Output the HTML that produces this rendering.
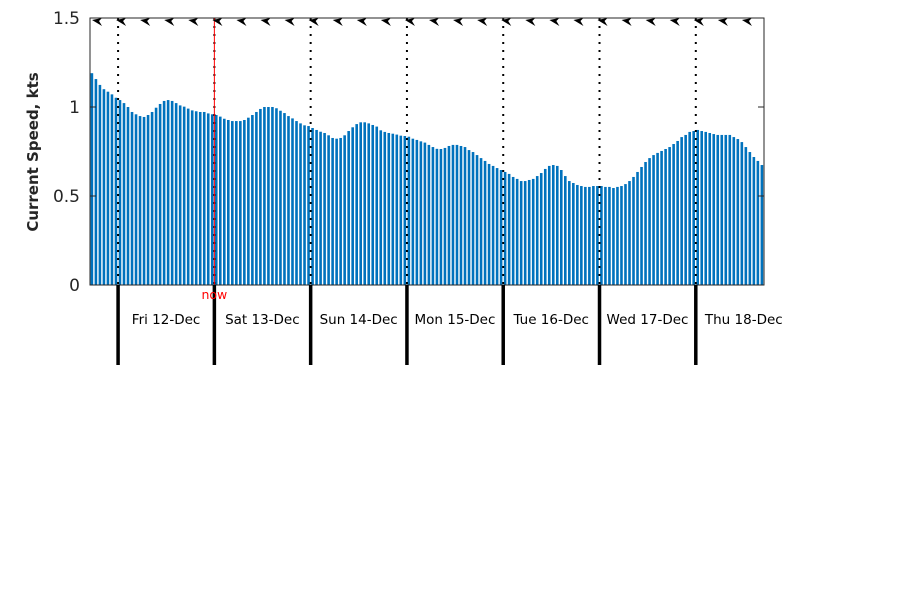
<!DOCTYPE html>
<html><head><meta charset="utf-8"><style>
body{margin:0;background:#fff;}
svg{display:block;font-family:"DejaVu Sans","Liberation Sans",sans-serif;}
</style></head><body>
<svg id="chart" width="900" height="600">
<g id="bars"></g>
<g id="grid"></g>
<g id="arrows"></g>
<rect x="90" y="18" width="674" height="267" fill="none" stroke="#262626" stroke-width="1"/>
<g id="yaxis"></g>
<text transform="translate(38,152) rotate(-90)" text-anchor="middle" font-size="15" font-weight="bold" fill="#262626">Current Speed, kts</text>
<g id="xaxis"></g>
</svg>
<script>
const speeds=[1.19,1.157,1.124,1.10,1.086,1.071,1.052,1.039,1.022,1.00,0.972,0.959,0.949,0.944,0.955,0.972,0.996,1.017,1.034,1.039,1.034,1.022,1.009,1.002,0.991,0.981,0.976,0.972,0.972,0.964,0.959,0.955,0.946,0.934,0.927,0.921,0.921,0.921,0.927,0.94,0.955,0.972,0.989,1.0,1.0,1.0,0.993,0.979,0.966,0.949,0.936,0.921,0.908,0.897,0.893,0.882,0.871,0.861,0.854,0.841,0.826,0.822,0.826,0.841,0.865,0.886,0.904,0.914,0.914,0.908,0.899,0.89,0.869,0.86,0.854,0.85,0.845,0.839,0.837,0.833,0.822,0.815,0.807,0.80,
0.787,0.775,0.765,0.764,0.770,0.781,0.787,0.787,0.781,0.775,0.758,0.747,0.730,0.713,0.697,0.680,0.669,0.657,0.646,0.635,0.624,0.607,0.596,0.584,0.584,0.590,0.596,0.612,0.629,0.652,0.669,0.674,0.669,0.646,0.612,0.584,0.573,0.562,0.556,0.551,0.551,0.556,0.556,0.556,0.551,0.551,0.545,0.551,0.556,0.567,0.584,0.607,0.635,0.663,0.691,0.713,0.730,0.742,0.753,0.764,0.775,0.792,0.809,0.831,0.843,0.860,0.865,0.871,0.865,0.86,0.854,0.848,0.843,0.843,0.843,0.843,0.831,0.820,0.803,0.775,0.747,0.719,0.697,0.674,0.66,0.65].slice(0,168);
const dayLabels=["Fri 12-Dec","Sat 13-Dec","Sun 14-Dec","Mon 15-Dec","Tue 16-Dec","Wed 17-Dec","Thu 18-Dec"];
const dayStartHours=[7,31,55,79,103,127,151];
const nowHour=31;
const yTicks=[0,0.5,1,1.5];
const arrowHours=[2,8,14,20,26,32,38,44,50,56,62,68,74,80,86,92,98,104,110,116,122,128,134,140,146,152,158,164];

const NS="http://www.w3.org/2000/svg";
const X0=90,X1=764,Y0=285,Y1=18,NH=168;
const xs=h=>X0+h*(X1-X0)/NH;
const ys=v=>Y0-v*(Y0-Y1)/1.5;
function mk(tag,attrs,parent){const e=document.createElementNS(NS,tag);for(const k in attrs)e.setAttribute(k,attrs[k]);parent.appendChild(e);return e;}
const gb=document.getElementById('bars');
speeds.forEach((v,i)=>{
 const r=mk('rect',{x:xs(i)+0.6,y:ys(v),width:2.6,height:Y0-ys(v),fill:'#0072bd'},gb);
 
 
});
const gg=document.getElementById('grid');
const gx=document.getElementById('xaxis');
dayStartHours.forEach((h,i)=>{
 const x=xs(h);
 const l=mk('line',{x1:x,x2:x,y1:Y1,y2:Y0,stroke:'#000','stroke-width':2,'stroke-dasharray':'2 6'},gg);
 
 
 const t=mk('line',{x1:x,x2:x,y1:Y0,y2:365,stroke:'#000','stroke-width':3.5},gx);
 
 
 const lab=mk('text',{x:x+48,y:324,'text-anchor':'middle','font-size':13.5,fill:'#000'},gx);
 lab.textContent=dayLabels[i];
 
 
});
const nx=xs(nowHour);
const nl=mk('line',{x1:nx,x2:nx,y1:Y1,y2:Y0,stroke:'#ff0000','stroke-width':1},gg);


const nt=mk('text',{x:nx,y:299,'text-anchor':'middle','font-size':12.5,fill:'#ff0000'},gx);
nt.textContent='now';


const ga=document.getElementById('arrows');
arrowHours.forEach(h=>{
 const x=xs(h),y=22;
 const p=mk('polygon',{points:`${x-6},${y-2} ${x+4},${y-4} ${x+1},${y-1} ${x+4},${y+4}`,fill:'#000'},ga);
 
 
});
const gy=document.getElementById('yaxis');
yTicks.forEach(v=>{
 const y=ys(v);
 mk('line',{x1:X0,x2:X0+6,y1:y,y2:y,stroke:'#262626'},gy);
 mk('line',{x1:X1-6,x2:X1,y1:y,y2:y,stroke:'#262626'},gy);
 const t=mk('text',{x:80,y:y+6,'text-anchor':'end','font-size':17,fill:'#262626'},gy);
 t.textContent=String(v);
 
 
});
</script>
</body></html>
